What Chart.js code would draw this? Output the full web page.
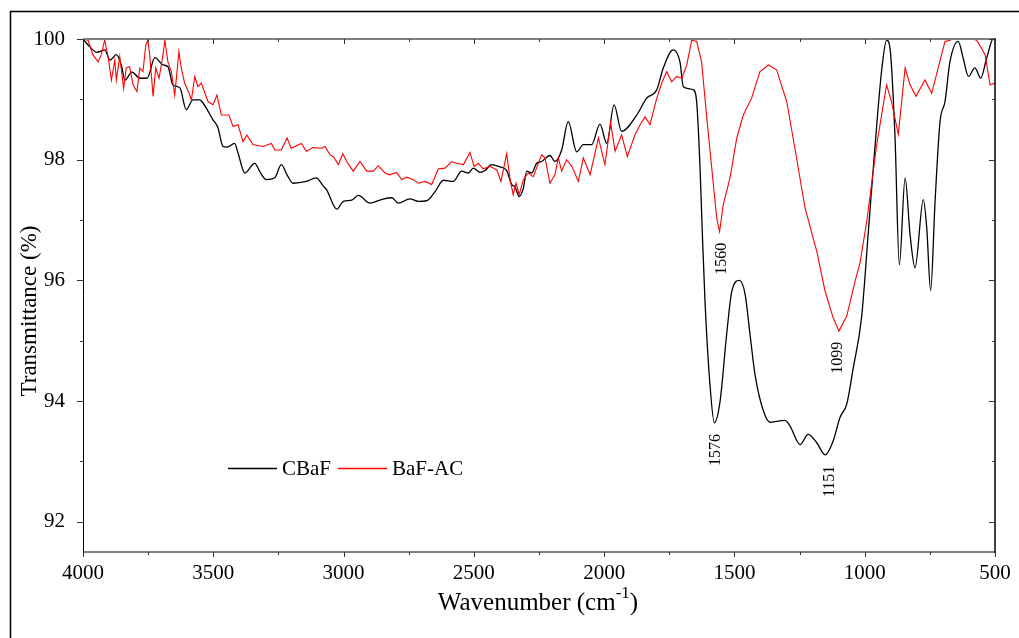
<!DOCTYPE html>
<html>
<head>
<meta charset="utf-8">
<script src="https://cdn.jsdelivr.net/npm/chart.js"></script>
<style>
body { margin: 0; background: #fff; }
canvas { display: block; }
</style>
</head>
<body>
<canvas id="ftir" width="1019" height="638"></canvas>
<script>
// CBaF spectrum (wavenumber cm-1, transmittance %)
const cbafWn = [4000,3974,3946,3917,3896,3872,3853,3839,3812,3781,3754,3724,3693,3674,3655,3628,3604,3578,3552,3543,
  3501,3482,3463,3447,3418,3405,3379,3341,3321,3297,3264,3239,3217,3194,3143,3105,3079,3065,3026,3001,
  2969,2943,2899,2854,2815,2790,2745,2713,2681,2649,2617,2579,2547,2521,2502,2476,2457,2432,2400,2374,
  2355,2342,2326,2310,2297,2278,2259,2240,2208,2189,2163,2138,2105,2080,2048,2016,1990,1962,1933,1875,
  1837,1798,1773,1735,1709,1696,1658,1645,1632,1623,1613,1594,1577,1555,1530,1510,1481,1459,1440,1421,
  1389,1363,1332,1306,1287,1248,1217,1184,1152,1121,1095,1069,1044,1012,986,967,949,934,916,903,
  884,867,845,826,807,775,762,747,730,711,692,673,641,622,602,577,555,532,507,500];
const cbafT = [100.00,99.87,99.78,99.82,99.65,99.74,99.57,99.32,99.45,99.35,99.35,99.69,99.57,99.54,99.24,99.19,98.83,98.99,98.99,98.96,
  98.66,98.53,98.22,98.21,98.27,98.11,97.78,97.94,97.80,97.67,97.70,97.92,97.75,97.61,97.64,97.70,97.57,97.50,97.18,97.31,
  97.33,97.41,97.28,97.34,97.37,97.28,97.35,97.31,97.32,97.47,97.66,97.64,97.81,97.78,97.86,97.79,97.82,97.92,97.88,97.82,
  97.59,97.55,97.39,97.53,97.81,97.78,97.94,97.97,98.07,97.97,98.16,98.63,98.13,98.25,98.25,98.59,98.27,98.91,98.47,98.74,
  99.02,99.16,99.52,99.82,99.62,99.21,99.16,98.96,97.87,96.76,95.66,94.28,93.64,94.00,95.10,95.82,96.00,95.77,95.10,94.44,
  93.84,93.65,93.67,93.68,93.59,93.28,93.45,93.31,93.11,93.34,93.73,93.95,94.55,95.39,96.81,97.87,98.83,99.52,99.98,99.85,
  98.41,96.26,97.70,96.76,96.21,97.34,96.87,95.83,97.31,98.63,98.96,99.62,99.96,99.68,99.38,99.52,99.35,99.68,100.0,100.0];

// BaF-AC spectrum
const bafacWn = [4000,3981,3962,3942,3930,3917,3904,3891,3878,3872,3859,3844,3834,3821,3808,3793,3782,3770,3759,3751,
  3744,3731,3721,3708,3693,3686,3674,3661,3648,3632,3623,3610,3593,3584,3571,3559,3546,3520,3501,3486,
  3469,3440,3424,3405,3386,3371,3348,3309,3277,3264,3239,3217,3201,3162,3143,3117,3085,3071,3052,3039,
  3020,3003,2988,2963,2937,2911,2886,2867,2841,2822,2796,2777,2758,2732,2713,2687,2662,2636,2611,2585,
  2566,2540,2515,2499,2483,2464,2438,2412,2396,2374,2361,2349,2338,2326,2310,2291,2272,2240,2227,2208,
  2189,2176,2163,2144,2124,2099,2080,2054,2022,1997,1975,1958,1933,1911,1882,1862,1843,1824,1798,1779,
  1760,1741,1722,1702,1683,1664,1645,1626,1606,1587,1568,1557,1543,1517,1491,1466,1434,1402,1370,1338,
  1299,1268,1229,1184,1152,1121,1099,1069,1037,1018,992,954,916,897,871,845,826,803,769,743,
  718,692,673,634,570,538,519,500];
const bafacT = [100.0,99.98,99.74,99.62,99.74,99.98,99.71,99.32,99.65,99.32,99.71,99.18,99.52,99.54,99.24,99.13,99.52,99.46,99.90,99.98,
  99.74,99.05,99.52,99.35,99.74,99.98,99.62,99.46,99.07,99.79,99.52,99.27,99.10,98.99,99.38,99.21,99.27,98.96,98.91,99.07,
  98.74,98.74,98.55,98.58,98.30,98.41,98.25,98.22,98.27,98.16,98.16,98.36,98.19,98.27,98.14,98.20,98.19,98.22,98.08,98.05,
  97.92,98.10,97.97,97.81,97.97,97.81,97.81,97.90,97.78,97.75,97.79,97.67,97.71,97.67,97.61,97.64,97.59,97.85,97.86,97.97,
  97.94,97.92,98.12,97.89,97.94,97.85,97.89,97.83,97.64,98.10,97.67,97.42,97.61,97.42,97.67,97.78,97.72,98.08,98.03,97.61,
  97.75,98.03,97.81,98.00,97.89,97.64,98.03,97.75,98.36,97.92,98.61,98.14,98.41,98.05,98.41,98.58,98.71,98.58,99.02,99.27,
  99.46,99.29,99.38,99.35,99.57,99.98,99.96,99.62,98.69,97.86,97.03,96.81,97.25,97.70,98.36,98.74,99.02,99.46,99.57,99.49,
  98.96,98.19,97.20,96.48,95.82,95.38,95.16,95.41,95.99,96.29,96.98,98.25,99.24,98.96,98.42,99.52,99.24,99.05,99.32,99.10,
  99.52,99.96,99.98,100.05,99.98,99.74,99.24,99.27];

const xTicks = [4000, 3500, 3000, 2500, 2000, 1500, 1000, 500];
const xMinorTicks = [3750, 3250, 2750, 2250, 1750, 1250, 750];
const yTicks = [92, 94, 96, 98, 100];
const yMinorTicks = [93, 95, 97, 99];

// peak labels, placed at (wavenumber, transmittance)
const peakLabels = [
  { text: '1560', wn: 1548, t: 96.36 },
  { text: '1576', wn: 1571, t: 93.19 },
  { text: '1099', wn: 1102, t: 94.72 },
  { text: '1151', wn: 1133, t: 92.67 }
];

const serif = "'Liberation Serif', 'Times New Roman', serif";

function toPoints(wn, t) {
  return wn.map((w, i) => ({ x: w, y: t[i] }));
}

const frame = {
  id: 'frame',
  beforeDraw(chart) {
    const ctx = chart.ctx;
    ctx.save();
    ctx.fillStyle = '#fff';
    ctx.fillRect(0, 0, chart.width, chart.height);
    ctx.restore();
  },
  afterDraw(chart) {
    const { ctx, chartArea: { left, right, top, bottom }, scales: { x, y } } = chart;
    ctx.save();

    // outer frame
    ctx.strokeStyle = '#000';
    ctx.lineWidth = 1.5;
    ctx.beginPath();
    ctx.moveTo(10.5, chart.height);
    ctx.lineTo(10.5, 11.5);
    ctx.lineTo(chart.width, 11.5);
    ctx.stroke();

    // axis lines
    ctx.strokeStyle = '#808080';
    ctx.lineWidth = 2;
    ctx.beginPath();
    ctx.moveTo(left, top); ctx.lineTo(right, top);
    ctx.moveTo(left, bottom); ctx.lineTo(right, bottom);
    ctx.stroke();
    ctx.strokeStyle = '#000';
    ctx.lineWidth = 1;
    ctx.beginPath();
    ctx.moveTo(left + 0.5, top); ctx.lineTo(left + 0.5, bottom);
    ctx.stroke();
    ctx.lineWidth = 1.5;
    ctx.beginPath();
    ctx.moveTo(right, top - 1); ctx.lineTo(right, bottom + 1);
    ctx.stroke();

    // ticks
    ctx.lineWidth = 1;
    ctx.strokeStyle = '#333';
    ctx.beginPath();
    const xt = (v, len) => {
      const px = Math.round(x.getPixelForValue(v)) + 0.5;
      ctx.moveTo(px, bottom); ctx.lineTo(px, bottom + len);
      ctx.moveTo(px, top); ctx.lineTo(px, top + len);
    };
    xTicks.forEach(v => xt(v, 5));
    xMinorTicks.forEach(v => xt(v, 3));
    const yt = (v, len) => {
      const py = Math.round(y.getPixelForValue(v)) + 0.5;
      ctx.moveTo(left, py); ctx.lineTo(left - len, py);
      ctx.moveTo(right, py); ctx.lineTo(right - len, py);
    };
    yTicks.forEach(v => yt(v, 6));
    yMinorTicks.forEach(v => yt(v, 3));
    ctx.stroke();

    // axis titles
    ctx.fillStyle = '#000';
    ctx.save();
    ctx.translate(30, 311);
    ctx.rotate(-Math.PI / 2);
    ctx.font = '23px ' + serif;
    ctx.textAlign = 'center';
    ctx.textBaseline = 'middle';
    ctx.fillText('Transmittance (%)', 0, 0);
    ctx.restore();

    const main = 'Wavenumber (cm';
    ctx.font = '25px ' + serif;
    const w1 = ctx.measureText(main).width;
    ctx.font = '17px ' + serif;
    const w2 = ctx.measureText('-1').width;
    ctx.font = '25px ' + serif;
    const w3 = ctx.measureText(')').width;
    let tx = 538 - (w1 + w2 + w3) / 2;
    const base = 610;
    ctx.textAlign = 'left';
    ctx.textBaseline = 'alphabetic';
    ctx.fillText(main, tx, base);
    tx += w1;
    ctx.font = '17px ' + serif;
    ctx.fillText('-1', tx, base - 12);
    tx += w2;
    ctx.font = '25px ' + serif;
    ctx.fillText(')', tx, base);

    // legend
    ctx.font = '21px ' + serif;
    ctx.textBaseline = 'middle';
    let lx = 228;
    const ly = 468.5;
    chart.data.datasets.forEach(ds => {
      ctx.strokeStyle = ds.borderColor;
      ctx.lineWidth = 1.3;
      ctx.beginPath();
      ctx.moveTo(lx, ly); ctx.lineTo(lx + 49, ly);
      ctx.stroke();
      ctx.fillStyle = '#000';
      ctx.fillText(ds.label, lx + 54, ly + 1);
      lx += 54 + ctx.measureText(ds.label).width + 7;
    });

    // peak labels
    ctx.font = '16px ' + serif;
    ctx.textAlign = 'center';
    peakLabels.forEach(p => {
      ctx.save();
      ctx.translate(x.getPixelForValue(p.wn), y.getPixelForValue(p.t));
      ctx.rotate(-Math.PI / 2);
      ctx.fillText(p.text, 0, 0);
      ctx.restore();
    });

    ctx.restore();
  }
};

new Chart(document.getElementById('ftir').getContext('2d'), {
  type: 'line',
  data: {
    datasets: [
      {
        label: 'CBaF',
        data: toPoints(cbafWn, cbafT),
        borderColor: '#000000',
        borderWidth: 1.3,
        pointRadius: 0,
        cubicInterpolationMode: 'monotone',
        order: 1
      },
      {
        label: 'BaF-AC',
        data: toPoints(bafacWn, bafacT),
        borderColor: '#ff0000',
        borderWidth: 1.1,
        pointRadius: 0,
        tension: 0,
        order: 0
      }
    ]
  },
  options: {
    responsive: false,
    animation: false,
    devicePixelRatio: 1,
    layout: { padding: { left: 0, top: 39, right: 24, bottom: 0 } },
    plugins: {
      legend: { display: false },
      tooltip: { enabled: false }
    },
    scales: {
      x: {
        type: 'linear',
        reverse: true,
        min: 500,
        max: 4000,
        afterBuildTicks: s => { s.ticks = xTicks.map(v => ({ value: v })); },
        afterFit: s => { s.height = 86; },
        grid: { display: false },
        border: { display: false },
        ticks: {
          color: '#000',
          font: { family: serif, size: 21 },
          padding: 1,
          maxRotation: 0,
          autoSkip: false,
          callback: v => String(v)
        }
      },
      y: {
        min: 91.5,
        max: 100,
        afterBuildTicks: s => { s.ticks = yTicks.map(v => ({ value: v })); },
        afterFit: s => { s.width = 83; },
        grid: { display: false },
        border: { display: false },
        ticks: {
          color: '#000',
          font: { family: serif, size: 21 },
          padding: 10
        }
      }
    }
  },
  plugins: [frame]
});
</script>
</body>
</html>
